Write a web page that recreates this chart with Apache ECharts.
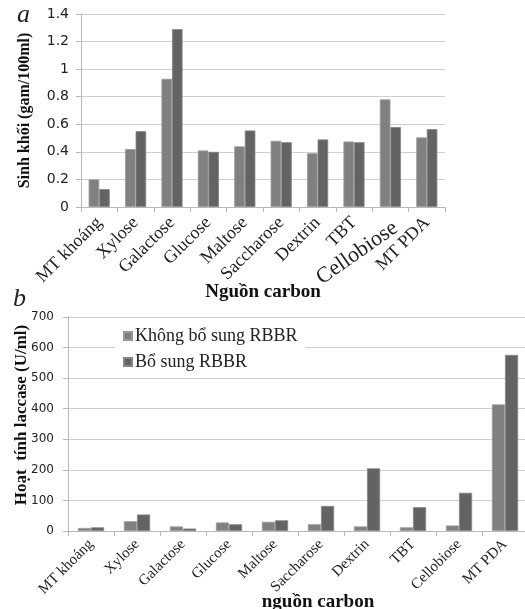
<!DOCTYPE html>
<html>
<head>
<meta charset="utf-8">
<script src="https://cdn.jsdelivr.net/npm/echarts@6/dist/echarts.min.js"></script>
<style>
  html, body { margin: 0; padding: 0; background: #fff; }
  #show_picture { width: 525px; height: 609px; }
</style>
</head>
<body>
<div id="show_picture"></div>
<script>
// data
const categories = ['MT khoáng', 'Xylose', 'Galactose', 'Glucose', 'Maltose',
    'Saccharose', 'Dextrin', 'TBT', 'Cellobiose', 'MT PDA'];
const seriesNames = ['Không bổ sung RBBR', 'Bổ sung RBBR'];

// (a) biomass, gam/100ml
const biomassNo = [0.20, 0.42, 0.93, 0.41, 0.44, 0.48, 0.39, 0.475, 0.78, 0.505];
const biomassYes = [0.13, 0.55, 1.29, 0.40, 0.555, 0.47, 0.49, 0.47, 0.58, 0.565];

// (b) laccase activity, U/ml
const laccaseNo = [10, 32, 15, 28, 30, 22, 15, 12, 18, 414];
const laccaseYes = [12, 54, 8, 22, 35, 82, 205, 78, 125, 576];

const colorLight = '#808080';
const colorDark = '#636363';
const serif = 'Liberation Serif';
const sans = 'DejaVu Sans';

let show_picture = document.getElementById('show_picture');
let myChart = echarts.init(show_picture);

const axisLine = { show: true, lineStyle: { color: '#b8b8b8', width: 1 } };
const axisTick = { show: true, length: 5, lineStyle: { color: '#b8b8b8' } };
const splitLine = { show: true, lineStyle: { color: '#cfcfcf', width: 1 } };

// the "Cellobiose" label of panel a is drawn askew in the figure
const oddLabel = 'Cellobiose';

let option = {
    animation: false,
    backgroundColor: '#fff',
    textStyle: { fontFamily: serif },
    grid: [
        { left: 81, top: 14, width: 364, height: 193, outerBoundsMode: 'none' },
        { left: 68, top: 317, width: 460, height: 214, outerBoundsMode: 'none' }
    ],
    legend: {
        data: seriesNames,
        orient: 'vertical',
        left: 115,
        top: 321,
        backgroundColor: '#fff',
        padding: [6, 8, 6, 8],
        itemGap: 8,
        itemWidth: 8,
        itemHeight: 8,
        icon: 'rect',
        textStyle: { fontFamily: serif, fontSize: 18, color: '#222', padding: [0, 0, 0, -2] }
    },
    graphic: [
        { id: 'ta', type: 'text', left: 17, top: 2, style: { text: 'a', font: 'italic 26px "Liberation Serif"', fill: '#222' } },
        { id: 'tb', type: 'text', left: 13, top: 286, style: { text: 'b', font: 'italic 26px "Liberation Serif"', fill: '#222' } }
    ],
    xAxis: [
        {
            type: 'category', gridIndex: 0, data: categories,
            axisLine: axisLine, axisTick: axisTick,
            axisLabel: {
                interval: 0, rotate: 45, margin: 13,
                fontFamily: serif, fontSize: 18, color: '#222',
                formatter: v => v === oddLabel ? '' : v
            },
            name: 'Nguồn carbon', nameLocation: 'middle', nameGap: 76, nameMoveOverlap: false,
            nameTextStyle: { fontFamily: serif, fontWeight: 'bold', fontSize: 19, color: '#111' }
        },
        {
            type: 'category', gridIndex: 1, data: categories,
            axisLine: axisLine, axisTick: axisTick,
            axisLabel: {
                interval: 0, rotate: 45, margin: 11,
                fontFamily: serif, fontSize: 15, color: '#222'
            },
            name: 'nguồn carbon', nameLocation: 'middle', nameGap: 62, nameMoveOverlap: false,
            nameTextStyle: { fontFamily: serif, fontWeight: 'bold', fontSize: 19, color: '#111', padding: [0, 0, 0, 40] }
        }
    ],
    yAxis: [
        {
            type: 'value', gridIndex: 0, min: 0, max: 1.4, interval: 0.2,
            axisLine: axisLine, axisTick: axisTick, splitLine: splitLine,
            axisLabel: { fontFamily: sans, fontSize: 14, color: '#222', margin: 12 },
            name: 'Sinh khối (gam/100ml)', nameLocation: 'middle', nameGap: 48, nameRotate: 90,
            nameMoveOverlap: false,
            nameTextStyle: { fontFamily: serif, fontWeight: 'bold', fontSize: 16, color: '#111' }
        },
        {
            type: 'value', gridIndex: 1, min: 0, max: 700, interval: 100,
            axisLine: axisLine, axisTick: axisTick, splitLine: splitLine,
            axisLabel: { fontFamily: sans, fontSize: 12, color: '#222', margin: 14 },
            name: 'Hoạt  tính laccase (U/ml)', nameLocation: 'middle', nameGap: 38, nameRotate: 90,
            nameMoveOverlap: false,
            nameTextStyle: { fontFamily: serif, fontWeight: 'bold', fontSize: 17, color: '#111', padding: [0, 0, 0, 18] }
        }
    ],
    series: [
        {
            name: seriesNames[0], type: 'bar', xAxisIndex: 0, yAxisIndex: 0, data: biomassNo,
            barGap: '0%', barCategoryGap: '42%',
            itemStyle: { color: colorLight, borderColor: '#9a9a9a', borderWidth: 0.8 }
        },
        {
            name: seriesNames[1], type: 'bar', xAxisIndex: 0, yAxisIndex: 0, data: biomassYes,
            barGap: '0%', barCategoryGap: '42%',
            itemStyle: { color: colorDark, borderColor: '#858585', borderWidth: 0.8 }
        },
        {
            name: seriesNames[0], type: 'bar', xAxisIndex: 1, yAxisIndex: 1, data: laccaseNo,
            barGap: '0%', barCategoryGap: '43%',
            itemStyle: { color: colorLight, borderColor: '#9a9a9a', borderWidth: 0.8 }
        },
        {
            name: seriesNames[1], type: 'bar', xAxisIndex: 1, yAxisIndex: 1, data: laccaseYes,
            barGap: '0%', barCategoryGap: '43%',
            itemStyle: { color: colorDark, borderColor: '#858585', borderWidth: 0.8 }
        }
    ]
};

option && myChart.setOption(option);

// place the odd label at its category, tilted less than the others
let cx = myChart.convertToPixel({ xAxisIndex: 0 }, oddLabel);
let cy = myChart.convertToPixel({ yAxisIndex: 0 }, 0);
myChart.setOption({
    graphic: [{
        id: 'cello', type: 'text', x: cx - 1, y: cy + 10, rotation: 35 * Math.PI / 180,
        style: { text: oddLabel, font: '22px "Liberation Serif"', fill: '#222', align: 'right', verticalAlign: 'top' }
    }]
});
</script>
</body>
</html>
